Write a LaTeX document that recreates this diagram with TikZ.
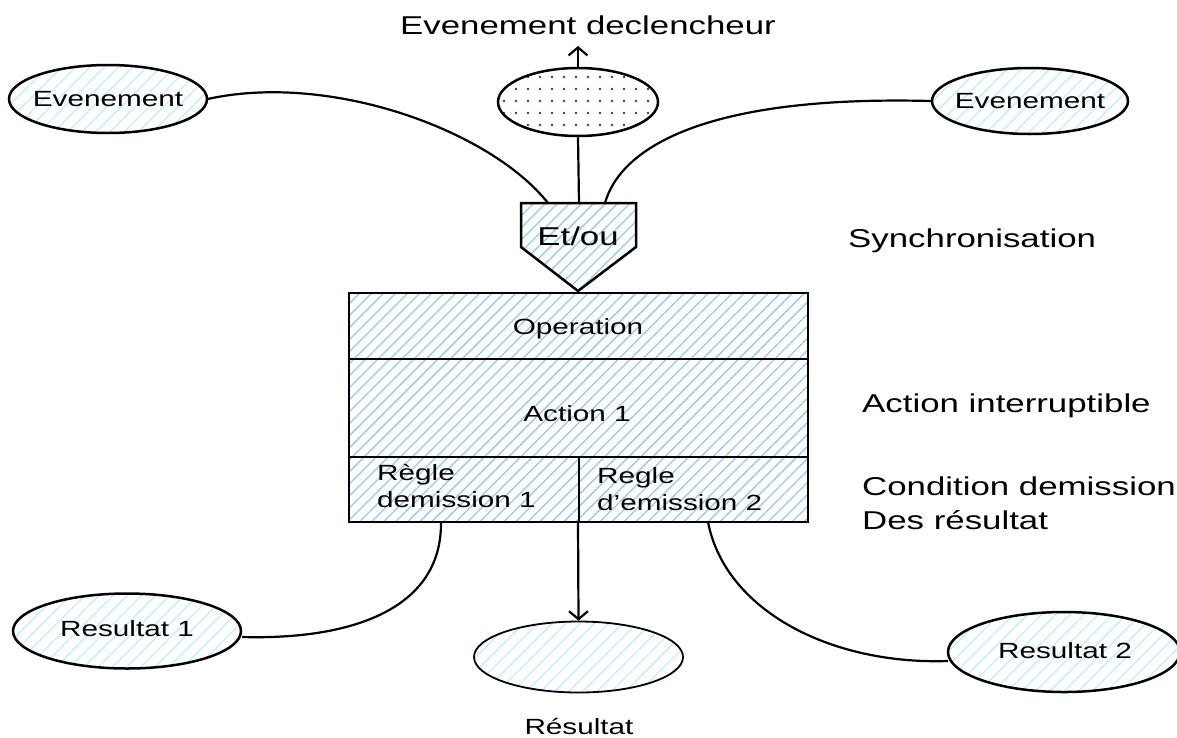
\documentclass[tikz,border=0pt]{standalone}
\usepackage{fontspec}
\setmainfont{Liberation Sans}
\newfontfamily\widesans[FakeStretch=1.35]{Liberation Sans}
\usetikzlibrary{shapes.geometric,patterns.meta,arrows.meta}
\definecolor{hatchblue}{RGB}{150,200,242}
\definecolor{hatchcyan}{RGB}{190,240,250}
\tikzset{
  x=1pt, y=-1pt,
  bigtxt/.style={font=\widesans\fontsize{25.8}{34}\selectfont, inner sep=0pt},
  smalltxt/.style={font=\widesans\fontsize{22}{27}\selectfont, inner sep=0pt},
  outline/.style={draw=black, line width=2.5pt},
  boxhatch/.style={pattern={Lines[angle=45,distance=8.5pt,line width=1.3pt]}, pattern color=hatchblue},
  ellhatch/.style={pattern={Lines[angle=45,distance=10pt,line width=1.3pt]}, pattern color=hatchcyan},
  dotfill/.style={pattern={Dots[distance=12pt,radius=1.4pt]}, pattern color=black!75},
  oval/.style={ellipse, outline, inner sep=0pt},
  cell/.style={rectangle, outline, boxhatch, inner sep=0pt},
  link/.style={draw=black, line width=2.2pt},
  tipped/.style={link, -{Straight Barb[length=8pt,width=19pt,line width=2.2pt]}},
}
\begin{document}
\begin{tikzpicture}
\useasboundingbox (0,0) rectangle (1177,737);

% event ovals
\node[oval, ellhatch, minimum width=198pt, minimum height=68pt] (evL) at (108,99) {};
\node[smalltxt, anchor=base] (evLt) at (108,106) {Evenement};
\node[oval, ellhatch, minimum width=196pt, minimum height=66pt] (evR) at (1030,101) {};
\node[smalltxt, anchor=base] (evRt) at (1030,108) {Evenement};

% triggering event
\node[oval, dotfill, minimum width=160pt, minimum height=68pt] (trig) at (578,102) {};
\coordinate (trigUp) at (578,46);
\node[bigtxt, anchor=base] (trigT) at (588,34) {Evenement declencheur};

% synchronisation pentagon
\coordinate (pTL) at (521,203);
\coordinate (pTR) at (636,203);
\coordinate (pR) at (636,247);
\coordinate (pB) at (578,291);
\coordinate (pL) at (521,247);
\coordinate (pTop) at (579,203);
\coordinate (pInL) at (548,203);
\coordinate (pInR) at (605,203);
\path[boxhatch] (pTL) -- (pTR) -- (pR) -- (pB) -- (pL) -- cycle;
\draw[outline, line join=miter] (pTL) -- (pTR) -- (pR) -- (pB) -- (pL) -- cycle;
\node[bigtxt, anchor=base] (sync) at (578,245) {Et/ou};

% operation box
\node[cell, minimum width=459pt, minimum height=66pt] (op) at (578.5,326) {};
\node[cell, minimum width=459pt, minimum height=98pt] (act) at (578.5,408) {};
\node[cell, minimum width=230pt, minimum height=65pt] (r1) at (464,489.5) {};
\node[cell, minimum width=229pt, minimum height=65pt] (r2) at (693.5,489.5) {};
\node[smalltxt, anchor=base] (opT) at (578,334) {Operation};
\node[smalltxt, anchor=base] (actT) at (577,421) {Action 1};
\node[smalltxt, anchor=base west] (r1a) at (377,480) {Règle};
\node[smalltxt, anchor=base west] (r1b) at (377,507.5) {demission 1};
\node[smalltxt, anchor=base west] (r2a) at (597,483) {Regle};
\node[smalltxt, anchor=base west] (r2b) at (597,510) {d’emission 2};

% side notes
\node[bigtxt, anchor=base west] (nSync) at (848,247) {Synchronisation};
\node[bigtxt, anchor=base west] (nAct) at (862,412) {Action interruptible};
\node[bigtxt, anchor=base west] (nCond) at (862,495) {Condition demission};
\node[bigtxt, anchor=base west] (nDes) at (862,529) {Des résultat};

% result ovals
\node[oval, ellhatch, minimum width=228pt, minimum height=75pt] (res1) at (127,631) {};
\node[smalltxt, anchor=base] (res1t) at (127,636) {Resultat 1};
\node[oval, ellhatch, minimum width=232pt, minimum height=80pt] (res2) at (1064,652) {};
\node[smalltxt, anchor=base] (res2t) at (1065,658) {Resultat 2};
\node[oval, ellhatch, line width=1.8pt, minimum width=209pt, minimum height=71pt] (res) at (578.5,657) {};
\node[smalltxt, anchor=base] (resT) at (579,734) {Résultat};

% bottom anchors of the rule cells
\coordinate (r1out) at (441,522);
\coordinate (midout) at (578,522);
\coordinate (r2out) at (708,522);
\coordinate (res1in) at (242,637);
\coordinate (res2in) at (948,661);

% connectors
\draw[tipped] (trig.north) -- (trigUp);
\draw[link] (trig.south) -- (pTop);
\draw[link] (evL.east) .. controls (330,72) and (490,130) .. (pInL);
\draw[link] (pInR) .. controls (620,150) and (700,95) .. (evR.west);
\draw[link] (r1out) .. controls (442,610) and (350,640) .. (res1in);
\draw[tipped] (midout) -- (res.north);
\draw[link] (r2out) .. controls (725,610) and (830,665) .. (res2in);
\end{tikzpicture}
\end{document}
